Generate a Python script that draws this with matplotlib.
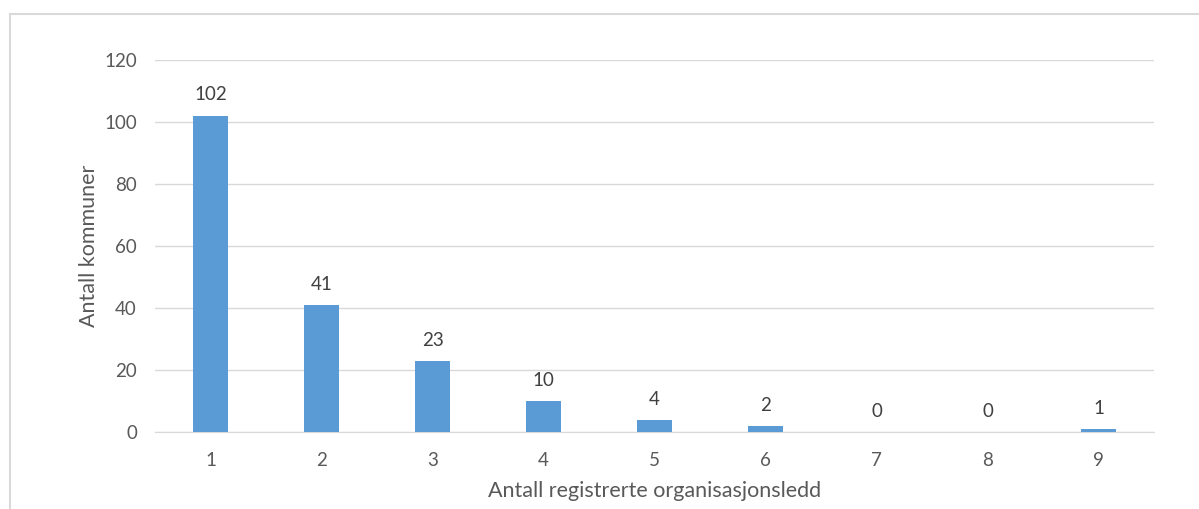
import matplotlib.pyplot as plt
from matplotlib.lines import Line2D

# Data
categories = ['1', '2', '3', '4', '5', '6', '7', '8', '9']
values = [102, 41, 23, 10, 4, 2, 0, 0, 1]

plt.rcParams['font.family'] = ['Lato', 'DejaVu Sans']
text_color = '#595959'

fig = plt.figure(figsize=(11.99, 5.09), dpi=100)
ax = fig.add_axes([0.1293, 0.1503, 0.8332, 0.7318])

x = range(len(categories))
bars = ax.bar(x, values, width=0.31, color='#5B9BD5', zorder=3)

# value labels above bars
for xi, v in zip(x, values):
    ax.text(xi, v + 4.0, str(v), ha='center', va='bottom', fontsize=13.5, color='#404040')

ax.set_xlim(-0.5, len(categories) - 0.5)
ax.set_ylim(0, 120)
ax.set_yticks(range(0, 121, 20))
ax.set_xticks(list(x))
ax.set_xticklabels(categories)
ax.yaxis.grid(True, color='#D9D9D9', linewidth=1, zorder=0)
ax.tick_params(axis='both', length=0, labelsize=13.5, labelcolor=text_color)
ax.tick_params(axis='x', pad=14)
ax.tick_params(axis='y', pad=13)

for side in ['top', 'right', 'left']:
    ax.spines[side].set_visible(False)
ax.spines['bottom'].set_color('#D9D9D9')

ax.set_ylabel('Antall kommuner', fontsize=15.5, color=text_color, labelpad=4)
ax.set_xlabel('Antall registrerte organisasjonsledd', fontsize=15.5, color=text_color, labelpad=9)

# outer chart border (top and left visible)
W, H = 1199, 509
fig.add_artist(Line2D([10 / W, 1.0], [1 - 14 / H, 1 - 14 / H], color='#D9D9D9', linewidth=1.5))
fig.add_artist(Line2D([10 / W, 10 / W], [0, 1 - 14 / H], color='#D9D9D9', linewidth=1.5))

plt.savefig('out.png', dpi=100)
